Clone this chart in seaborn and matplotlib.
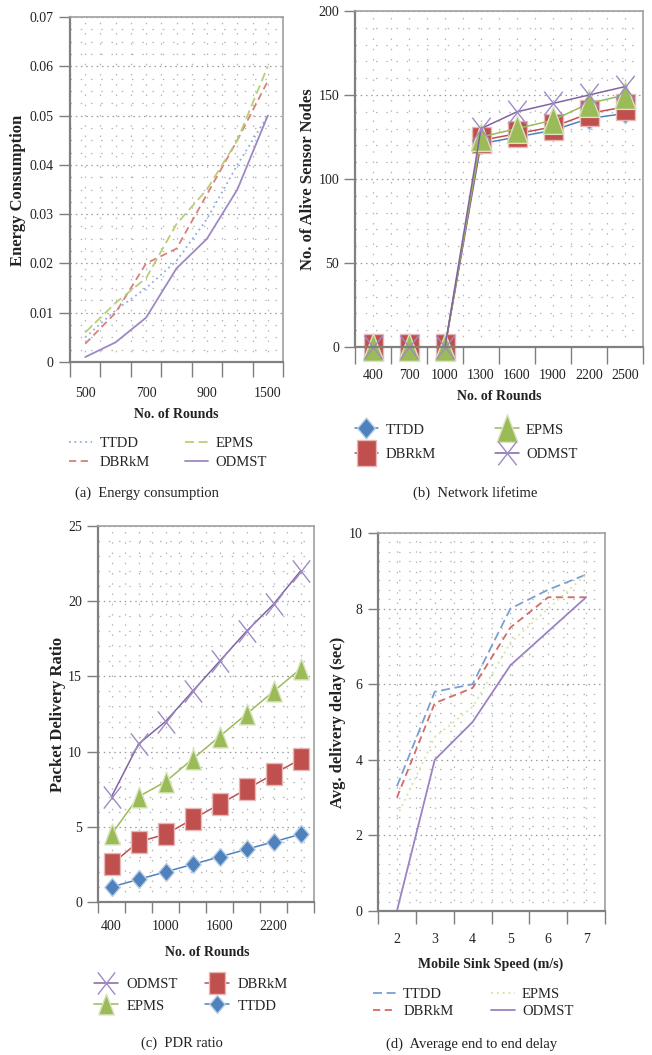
import numpy as np
import seaborn as sns
import matplotlib.pyplot as plt
from matplotlib.path import Path
from matplotlib.ticker import FixedLocator, MultipleLocator, FuncFormatter, NullFormatter

sns.set_theme(style='white')
plt.rcParams['font.family'] = ['Liberation Serif', 'DejaVu Serif']

W, H = 652, 1055

# (a) energy consumption
rounds_a = ['500', '600', '700', '800', '900', '1000', '1500']
energy_ttdd = [0.005, 0.0105, 0.015, 0.0205, 0.029, 0.040, 0.050]
energy_dbrkm = [0.0037, 0.010, 0.020, 0.023, 0.034, 0.045, 0.057]
energy_epms = [0.006, 0.012, 0.017, 0.028, 0.035, 0.045, 0.060]
energy_odmst = [0.001, 0.004, 0.009, 0.019, 0.025, 0.035, 0.050]

# (b) network lifetime
rounds_b = ['400', '700', '1000', '1300', '1600', '1900', '2200', '2500']
alive_ttdd = [0, 0, 0, 121, 125, 129, 136, 139]
alive_dbrkm = [0, 0, 0, 123, 127, 131, 139, 143]
alive_epms = [0, 0, 0, 125, 130, 135, 145, 150]
alive_odmst = [0, 0, 0, 130, 140, 145, 150, 155]

# (c) packet delivery ratio
rounds_c = ['400', '700', '1000', '1300', '1600', '1900', '2200', '2500']
pdr_ttdd = [1, 1.5, 2, 2.5, 3, 3.5, 4, 4.5]
pdr_dbrkm = [2.5, 4, 4.5, 5.5, 6.5, 7.5, 8.5, 9.5]
pdr_epms = [4.5, 7, 8, 9.5, 11, 12.5, 14, 15.5]
pdr_odmst = [7, 10.5, 12, 14, 16, 18, 19.8, 22]

# (d) end to end delay
speeds = ['2', '3', '4', '5', '6', '7']
delay_ttdd = [3.3, 5.8, 6.0, 8.0, 8.5, 8.9]
delay_dbrkm = [3.0, 5.5, 5.9, 7.5, 8.3, 8.3]
delay_epms = [2.5, 4.6, 5.4, 7.1, 8.0, 8.9]
delay_odmst = [0, 4.0, 5.0, 6.5, 7.4, 8.3]

BLUE, RED, GREEN, PURPLE = '#4F81BD', '#C0504D', '#9BBB59', '#8064A2'

# taller-than-wide markers like the original
SQ = [(-0.72, -1), (0.72, -1), (0.72, 1), (-0.72, 1), (-0.72, -1)]
TRI = [(-0.75, -1), (0.75, -1), (0, 1), (-0.75, -1)]
DIA = [(0, -1), (0.85, 0), (0, 1), (-0.85, 0), (0, -1)]
CROSS = Path([(-0.78, -1), (0.78, 1), (-0.78, 1), (0.78, -1)],
             [Path.MOVETO, Path.LINETO, Path.MOVETO, Path.LINETO])

fig = plt.figure(figsize=(W / 100, H / 100), dpi=100)


def px_axes(l, t, r, b):
    return fig.add_axes([l / W, 1 - b / H, (r - l) / W, (b - t) / H])


def style_axes(ax, cats, ymax, ymajor, yminor, every, xlen, xpad, ylen, ypad, yfmt):
    n = len(cats)
    ax.set_xlim(-0.5, n - 0.5)
    ax.set_ylim(0, ymax)
    ax.xaxis.set_major_locator(FixedLocator(np.arange(n + 1) - 0.5))
    ax.xaxis.set_major_formatter(NullFormatter())
    ax.xaxis.set_minor_locator(FixedLocator(np.arange(n)))
    ax.xaxis.set_minor_formatter(FuncFormatter(
        lambda v, p: cats[int(round(v))] if int(round(v)) % every == 0 else ''))
    ax.yaxis.set_major_locator(MultipleLocator(ymajor))
    ax.yaxis.set_minor_locator(MultipleLocator(yminor))
    ax.yaxis.set_major_formatter(FuncFormatter(yfmt))
    ax.tick_params(axis='x', which='major', bottom=True, length=xlen, width=1, color='#7f7f7f')
    ax.tick_params(axis='x', which='minor', bottom=True, length=0, pad=xpad + xlen,
                   labelsize=10, labelcolor='#222222')
    ax.tick_params(axis='y', which='major', left=True, length=ylen, width=1, color='#7f7f7f',
                   pad=ypad, labelsize=10, labelcolor='#222222')
    ax.tick_params(axis='y', which='minor', left=False, length=0)
    ax.grid(True, which='major', axis='y', ls=(0, (1.2, 3)), color='#9a9a9a', lw=0.9)
    ax.grid(True, which='minor', axis='y', ls=(0, (1.2, 7)), color='#b5b5b5', lw=0.9)
    ax.grid(True, which='both', axis='x', ls=(0, (1.2, 7)), color='#b5b5b5', lw=0.9)
    ax.set_axisbelow(True)
    for s in ['left', 'bottom']:
        ax.spines[s].set_color('#808080')
        ax.spines[s].set_linewidth(1.6)
    for s in ['top', 'right']:
        ax.spines[s].set_color('#a0a0a0')
        ax.spines[s].set_linewidth(1.2)


def labels(ax, xl, yl, xc, yc, axbox):
    l, t, r, b = axbox
    ax.set_xlabel(xl, fontsize=10, fontweight='bold', va='center', color='#222222')
    ax.xaxis.set_label_coords((xc[0] - l) / (r - l), (b - xc[1]) / (b - t))
    ax.set_ylabel(yl, fontsize=12, fontweight='bold', va='center', color='#222222')
    ax.yaxis.set_label_coords((yc[0] - l) / (r - l), (b - yc[1]) / (b - t))


def legend(ax, order, cx, cy, **kw):
    h, lab = ax.get_legend_handles_labels()
    d = dict(zip(lab, h))
    ax.legend([d[k] for k in order], order, loc='center', ncol=2,
              bbox_to_anchor=(cx / W, 1 - cy / H), bbox_transform=fig.transFigure,
              frameon=False, fontsize=10.5, borderpad=0, **kw)


fmt_int = lambda v, p: f'{v:.0f}'
fmt_e = lambda v, p: '0' if abs(v) < 1e-9 else f'{v:.2f}'

# ---------------- (a) ----------------
box_a = (70, 17, 283, 362)
ax = px_axes(*box_a)
sns.lineplot(x=rounds_a, y=energy_ttdd, ax=ax, color='#8DB0DD', ls=(0, (1, 2)), lw=1.3, label='TTDD')
sns.lineplot(x=rounds_a, y=energy_dbrkm, ax=ax, color='#D9807D', ls=(0, (4, 2.5)), lw=1.3, label='DBRkM')
sns.lineplot(x=rounds_a, y=energy_epms, ax=ax, color='#B8CF77', ls=(0, (5, 2.5)), lw=1.3, label='EPMS')
sns.lineplot(x=rounds_a, y=energy_odmst, ax=ax, color='#9E88C4', lw=1.3, label='ODMST')
style_axes(ax, rounds_a, 0.07, 0.01, 0.0025, 2, 11, 7, 8, 4, fmt_e)
labels(ax, 'No. of Rounds', 'Energy Consumption', (176, 415), (18, 190), box_a)
legend(ax, ['TTDD', 'DBRkM', 'EPMS', 'ODMST'], 168, 453,
       handlelength=1.6, columnspacing=2.4, labelspacing=0.35, handletextpad=0.5)
fig.text(147 / W, 1 - 493 / H, '(a)  Energy consumption', ha='center', va='center', fontsize=10.5,
         color='#222222')

# ---------------- (b) ----------------
box_b = (355, 11, 643, 347)
ax = px_axes(*box_b)
mk_b = dict(lw=1.1, clip_on=False, markeredgewidth=1)
sns.lineplot(x=rounds_b, y=alive_ttdd, ax=ax, color=BLUE, marker=DIA, markersize=15,
             markeredgecolor='#B9CDE5', label='TTDD', **mk_b)
sns.lineplot(x=rounds_b, y=alive_dbrkm, ax=ax, color=RED, marker=SQ, markersize=19,
             markeredgecolor='#E6B9B8', label='DBRkM', **mk_b)
sns.lineplot(x=rounds_b, y=alive_epms, ax=ax, color=GREEN, marker=TRI, markersize=20,
             markeredgecolor='#D7E4BD', label='EPMS', **mk_b)
sns.lineplot(x=rounds_b, y=alive_odmst, ax=ax, color=PURPLE, marker=CROSS, markersize=17,
             markerfacecolor='none', markeredgecolor='#9F8BC4', label='ODMST', **mk_b)
style_axes(ax, rounds_b, 200, 50, 10, 1, 12, 4, 8, 3.5, fmt_int)
labels(ax, 'No. of Rounds', 'No. of Alive Sensor Nodes', (499, 397), (308, 179), box_b)
legend(ax, ['TTDD', 'DBRkM', 'EPMS', 'ODMST'], 466, 442,
       handlelength=1.6, columnspacing=4.1, labelspacing=0.75, handletextpad=0.5)
fig.text(475 / W, 1 - 493 / H, '(b)  Network lifetime', ha='center', va='center', fontsize=10.5,
         color='#222222')

# ---------------- (c) ----------------
box_c = (98, 526, 314, 902)
ax = px_axes(*box_c)
mk_c = dict(lw=1.1, clip_on=False, markeredgewidth=1)
sns.lineplot(x=rounds_c, y=pdr_ttdd, ax=ax, color=BLUE, marker=DIA, markersize=13,
             markeredgecolor='#B9CDE5', label='TTDD', **mk_c)
sns.lineplot(x=rounds_c, y=pdr_dbrkm, ax=ax, color=RED, marker=SQ, markersize=16,
             markeredgecolor='#E6B9B8', label='DBRkM', **mk_c)
sns.lineplot(x=rounds_c, y=pdr_epms, ax=ax, color=GREEN, marker=TRI, markersize=15,
             markeredgecolor='#D7E4BD', label='EPMS', **mk_c)
sns.lineplot(x=rounds_c, y=pdr_odmst, ax=ax, color=PURPLE, marker=CROSS, markersize=16,
             markerfacecolor='none', markeredgecolor='#9F8BC4', label='ODMST', **mk_c)
style_axes(ax, rounds_c, 25, 5, 1, 2, 8, 5, 8, 3.5, fmt_int)
labels(ax, 'No. of Rounds', 'Packet Delivery Ratio', (207, 952), (58, 714), box_c)
legend(ax, ['ODMST', 'EPMS', 'DBRkM', 'TTDD'], 191, 995,
       handlelength=1.6, columnspacing=1.9, labelspacing=0.6, handletextpad=0.6)
fig.text(182 / W, 1 - 1043 / H, '(c)  PDR ratio', ha='center', va='center', fontsize=10.5,
         color='#222222')

# ---------------- (d) ----------------
box_d = (378, 533, 605, 911)
ax = px_axes(*box_d)
sns.lineplot(x=speeds, y=delay_ttdd, ax=ax, color='#7B9FD3', ls=(0, (5, 2.5)), lw=1.3, label='TTDD')
sns.lineplot(x=speeds, y=delay_dbrkm, ax=ax, color='#D46B68', ls=(0, (4, 2.5)), lw=1.3, label='DBRkM')
sns.lineplot(x=speeds, y=delay_epms, ax=ax, color='#DCE6A6', ls=(0, (1, 2)), lw=1.4, label='EPMS')
sns.lineplot(x=speeds, y=delay_odmst, ax=ax, color='#9C82C3', lw=1.3, label='ODMST')
style_axes(ax, speeds, 10, 2, 0.25, 1, 9, 7, 7, 4, fmt_int)
labels(ax, 'Mobile Sink Speed (m/s)', 'Avg. delivery delay (sec)', (491, 964), (338, 722), box_d)
legend(ax, ['TTDD', 'DBRkM', 'EPMS', 'ODMST'], 473, 1003,
       handlelength=1.6, columnspacing=2.6, labelspacing=0.3, handletextpad=0.5)
fig.text(472 / W, 1 - 1044 / H, '(d)  Average end to end delay', ha='center', va='center',
         fontsize=10.5, color='#222222')

fig.savefig('out.png', dpi=100, facecolor='white')
